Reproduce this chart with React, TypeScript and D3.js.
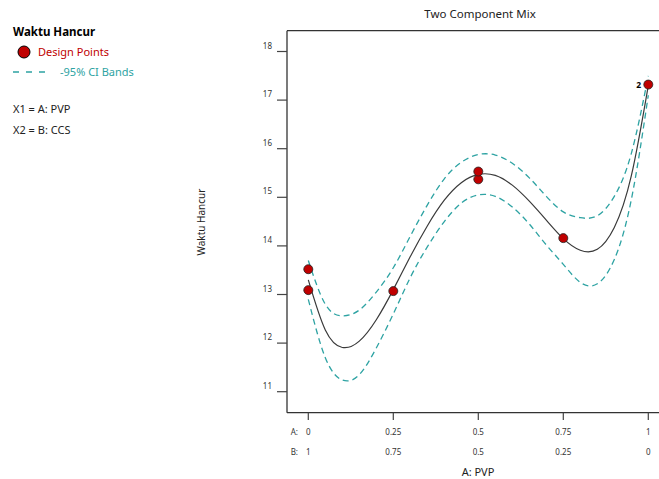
import React from 'react';
import * as d3 from 'd3';

// fitted model on an x grid of A: PVP
const GRID_X = [0, 0.05, 0.1, 0.15, 0.2, 0.25, 0.3, 0.35, 0.4, 0.45, 0.5, 0.55, 0.6, 0.65, 0.7, 0.75, 0.8, 0.85, 0.9, 0.95, 1];
const FIT = [13.3, 12.27, 11.91, 12.04, 12.48, 13.1, 13.78, 14.41, 14.94, 15.3, 15.47, 15.45, 15.25, 14.92, 14.53, 14.15, 13.91, 13.93, 14.38, 15.44, 17.3];
const CI_UPPER = [13.7, 12.8, 12.56, 12.68, 13.05, 13.55, 14.2, 14.84, 15.38, 15.72, 15.88, 15.87, 15.7, 15.4, 15.02, 14.7, 14.58, 14.62, 15.02, 15.9, 17.5];
const CI_LOWER = [12.9, 11.7, 11.24, 11.35, 11.9, 12.6, 13.35, 13.98, 14.5, 14.88, 15.05, 15.02, 14.8, 14.45, 14.02, 13.62, 13.25, 13.22, 13.72, 14.95, 17.1];

// design points
const PT_X = [0, 0, 0.25, 0.5, 0.5, 0.75, 1];
const PT_Y = [13.09, 13.52, 13.07, 15.37, 15.53, 14.16, 17.32];

const Y_TICKS = [11, 12, 13, 14, 15, 16, 17, 18];
const A_TICKS = [0, 0.25, 0.5, 0.75, 1];
const A_LABELS = ['0', '0.25', '0.5', '0.75', '1'];
const B_LABELS = ['1', '0.75', '0.5', '0.25', '0'];

const TEAL = '#2ea3a3';
const RED = '#c00000';
const FONT = '"Noto Sans", "Open Sans", sans-serif';

export default function App() {
  const W = 659, H = 479;
  const frameL = 287, frameT = 30.7, frameB = 412.7;

  const x = d3.scaleLinear().domain([0, 1]).range([308.3, 648.3]);
  const y = d3.scaleLinear().domain([11, 18]).range([391.7, 51.5]);

  const line = (vals: number[]) =>
    d3.line<number>()
      .x((_, i) => x(GRID_X[i]))
      .y(d => y(d))
      .curve(d3.curveNatural)(vals) || '';

  return (
    <svg width={W} height={H} style={{ position: 'absolute', left: 0, top: 0, fontFamily: FONT }}>
      <rect width={W} height={H} fill="#fff" />

      {/* legend */}
      <text x={13} y={36} fontSize={11.5} fontWeight="bold" fill="#000">Waktu Hancur</text>
      <circle cx={24} cy={52} r={6} fill={RED} stroke="#000" strokeWidth={1} />
      <text x={38} y={56} fontSize={11} fill={RED}>Design Points</text>
      <line x1={13} x2={48} y1={72} y2={72} stroke={TEAL} strokeWidth={1.3} strokeDasharray="6,7" />
      <text x={60} y={76} fontSize={11} fill={TEAL}>-95% CI Bands</text>
      <text x={13} y={113} fontSize={11} fill="#222">X1 = A: PVP</text>
      <text x={13} y={134} fontSize={11} fill="#222">X2 = B: CCS</text>

      {/* title and axis titles */}
      <text x={480} y={18} fontSize={11.5} textAnchor="middle" fill="#222">Two Component Mix</text>
      <text transform={`translate(205,222) rotate(-90)`} fontSize={10} textAnchor="middle" fill="#222">Waktu Hancur</text>
      <text x={478} y={476} fontSize={11} textAnchor="middle" fill="#222">A: PVP</text>

      {/* frame */}
      <line x1={frameL} x2={frameL} y1={frameT} y2={frameB} stroke="#333" strokeWidth={1.3} />
      <line x1={frameL} x2={W} y1={frameT} y2={frameT} stroke="#333" strokeWidth={1.3} />
      <line x1={frameL} x2={W} y1={frameB} y2={frameB} stroke="#333" strokeWidth={1.3} />

      {/* y axis */}
      {Y_TICKS.map(t => (
        <g key={t}>
          <line x1={277} x2={frameL} y1={y(t)} y2={y(t)} stroke="#444" strokeWidth={1.2} />
          <text x={272} y={y(t) - 3} fontSize={8} textAnchor="end" fill="#333">{t}</text>
        </g>
      ))}

      {/* x axis, A and B rows */}
      {A_TICKS.map((t, i) => (
        <g key={t}>
          <line x1={x(t)} x2={x(t)} y1={frameB} y2={420} stroke="#444" strokeWidth={1.2} />
          <text x={x(t)} y={435} fontSize={8} textAnchor="middle" fill="#333">{A_LABELS[i]}</text>
          <text x={x(t)} y={455} fontSize={8} textAnchor="middle" fill="#333">{B_LABELS[i]}</text>
        </g>
      ))}
      <text x={298} y={435} fontSize={8} textAnchor="end" fill="#333">A:</text>
      <text x={298} y={455} fontSize={8} textAnchor="end" fill="#333">B:</text>

      {/* CI bands and fit */}
      <path d={line(CI_UPPER)} fill="none" stroke={TEAL} strokeWidth={1.3} strokeDasharray="6,4" />
      <path d={line(CI_LOWER)} fill="none" stroke={TEAL} strokeWidth={1.3} strokeDasharray="6,4" />
      <path d={line(FIT)} fill="none" stroke="#3a3a3a" strokeWidth={1.2} />

      {/* design points */}
      {PT_X.map((px, i) => (
        <circle key={i} cx={x(px)} cy={y(PT_Y[i])} r={4.5} fill={RED} stroke="#222" strokeWidth={0.8} />
      ))}
      <text x={641} y={87.5} fontSize={8.5} fontWeight="bold" textAnchor="end" fill="#000">2</text>
    </svg>
  );
}
